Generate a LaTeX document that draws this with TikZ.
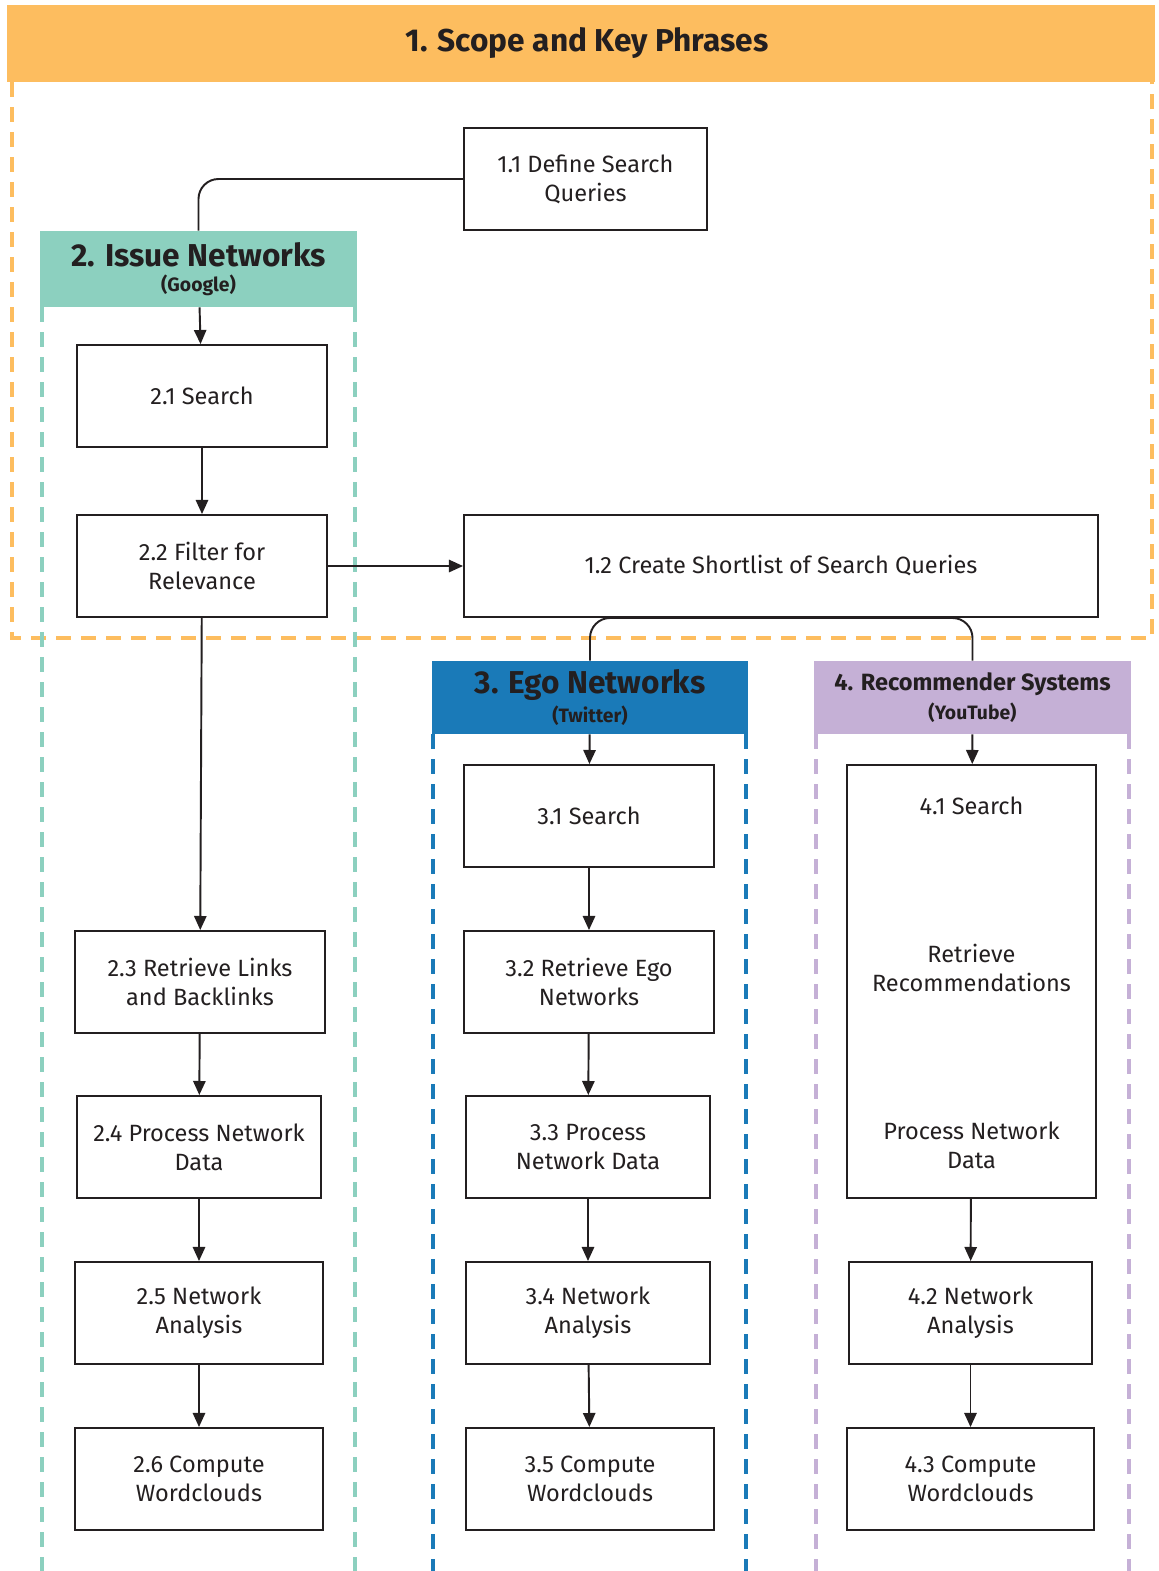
\documentclass[tikz,border=0pt]{standalone}
\usepackage{fontspec}
\setmainfont{Fira Sans}
\usetikzlibrary{arrows.meta,positioning}
\definecolor{scopeor}{HTML}{FDBD5F}
\definecolor{issuegr}{HTML}{8CD0BF}
\definecolor{egobl}{HTML}{1A7AB8}
\definecolor{recpu}{HTML}{C5B0D6}
\definecolor{ink}{HTML}{231F20}
\tikzset{
  stepbox/.style={draw=ink,line width=1.1pt,minimum height=2.04cm,align=center,
    text=ink,font=\fontsize{13.4}{16.5}\selectfont},
  hdr/.style={minimum height=1.5cm,align=center,text=ink,inner sep=0pt},
  lane/.style={line width=2.2pt,dash pattern=on 0.3cm off 0.2cm},
  arr/.style={draw=ink,line width=1.1pt,-{Triangle[length=8pt,width=7pt]}},
  link/.style={draw=ink,line width=1.1pt,rounded corners=0.4cm}
}
\begin{document}
\begin{tikzpicture}
      \useasboundingbox (0,0) rectangle (23.18,-31.42);

      % scope band
      \fill[scopeor] (0.14,-0.10) rectangle (23.10,-1.64);
      \node[text=ink,font=\fontsize{18}{22}\selectfont\bfseries] (scope) at (11.74,-0.86) {1. Scope and Key Phrases};
      \draw[lane,scopeor] (0.24,-1.64) -- (0.24,-12.76) -- (23.04,-12.76) -- (23.04,-1.64);

      % lanes
      \draw[lane,issuegr] (0.84,-6.14) -- (0.84,-31.42);
      \draw[lane,issuegr] (7.10,-6.14) -- (7.10,-31.42);
      \draw[lane,egobl] (8.66,-14.68) -- (8.66,-31.42);
      \draw[lane,egobl] (14.92,-14.68) -- (14.92,-31.42);
      \draw[lane,recpu] (16.32,-14.68) -- (16.32,-31.42);
      \draw[lane,recpu] (22.58,-14.68) -- (22.58,-31.42);

      \node[hdr,fill=issuegr,minimum width=6.34cm,minimum height=1.52cm] (hissue) at (3.97,-5.38)
        {{\fontsize{18}{20}\selectfont\bfseries 2. Issue Networks}\\[2pt]{\fontsize{11}{12}\selectfont\bfseries (Google)}};
      \node[hdr,fill=egobl,minimum width=6.32cm,minimum height=1.46cm] (hego) at (11.80,-13.95)
        {{\fontsize{18}{20}\selectfont\bfseries 3. Ego Networks}\\[2pt]{\fontsize{11}{12}\selectfont\bfseries (Twitter)}};
      \node[hdr,fill=recpu,minimum width=6.34cm,minimum height=1.46cm] (hrec) at (19.45,-13.95)
        {{\fontsize{13.4}{15}\selectfont\bfseries 4. Recommender Systems}\\[3pt]{\fontsize{11}{12}\selectfont\bfseries (YouTube)}};

      \node[stepbox,minimum width=4.86cm] (q11) at (11.71,-3.58) {1.1 Define Search\\Queries};
      \node[stepbox,minimum width=12.68cm] (q12) at (15.62,-11.32) {1.2 Create Shortlist of Search Queries};

      \node[stepbox,minimum width=5.0cm] (s21) at (4.04,-7.92) {2.1 Search};
      \node[stepbox,minimum width=5.0cm] (s22) at (4.04,-11.32) {2.2 Filter for\\Relevance};
      \node[stepbox,minimum width=5.0cm] (s23) at (4.00,-19.64) {2.3 Retrieve Links\\and Backlinks};
      \node[stepbox,minimum width=4.88cm] (s24) at (3.98,-22.94) {2.4 Process Network\\Data};
      \node[stepbox,minimum width=4.96cm] (s25) at (3.98,-26.26) {2.5 Network\\Analysis};
      \node[stepbox,minimum width=4.96cm] (s26) at (3.98,-29.58) {2.6 Compute\\Wordclouds};

      \node[stepbox,minimum width=5.0cm] (s31) at (11.78,-16.32) {3.1 Search};
      \node[stepbox,minimum width=5.0cm] (s32) at (11.78,-19.64) {3.2 Retrieve Ego\\Networks};
      \node[stepbox,minimum width=4.88cm] (s33) at (11.76,-22.94) {3.3 Process\\Network Data};
      \node[stepbox,minimum width=4.88cm] (s34) at (11.76,-26.26) {3.4 Network\\Analysis};
      \node[stepbox,minimum width=4.96cm] (s35) at (11.80,-29.58) {3.5 Compute\\Wordclouds};

      \node[stepbox,minimum width=4.98cm,minimum height=8.66cm] (s41) at (19.43,-19.63) {};
      \node[text=ink,font=\fontsize{13.4}{16.5}\selectfont] (s41a) at (19.43,-16.12) {4.1 Search};
      \node[text=ink,font=\fontsize{13.4}{16.5}\selectfont,align=center] (s41b) at (19.43,-19.36) {Retrieve\\Recommendations};
      \node[text=ink,font=\fontsize{13.4}{16.5}\selectfont,align=center] (s41c) at (19.43,-22.90) {Process Network\\Data};
      \node[stepbox,minimum width=4.86cm] (s42) at (19.41,-26.26) {4.2 Network\\Analysis};
      \node[stepbox,minimum width=4.94cm] (s43) at (19.41,-29.58) {4.3 Compute\\Wordclouds};

      \draw[link] (q11.west) -| (hissue.north);
      \draw[link] (q12.south) -| (hego.north);
      \draw[link] (q12.south) -| (hrec.north);

      \draw[arr] (hissue) -- (s21);
      \draw[arr] (s21) -- (s22);
      \draw[arr] (s22) -- (q12);
      \draw[arr] (s22) -- (s23);
      \draw[arr] (s23) -- (s24);
      \draw[arr] (s24) -- (s25);
      \draw[arr] (s25) -- (s26);

      \draw[arr] (hego) -- (s31);
      \draw[arr] (s31) -- (s32);
      \draw[arr] (s32) -- (s33);
      \draw[arr] (s33) -- (s34);
      \draw[arr] (s34) -- (s35);

      \draw[arr] (hrec) -- (s41);
      \draw[arr] (s41) -- (s42);
      \draw[arr] (s42) -- (s43);
    \end{tikzpicture}
\end{document}
